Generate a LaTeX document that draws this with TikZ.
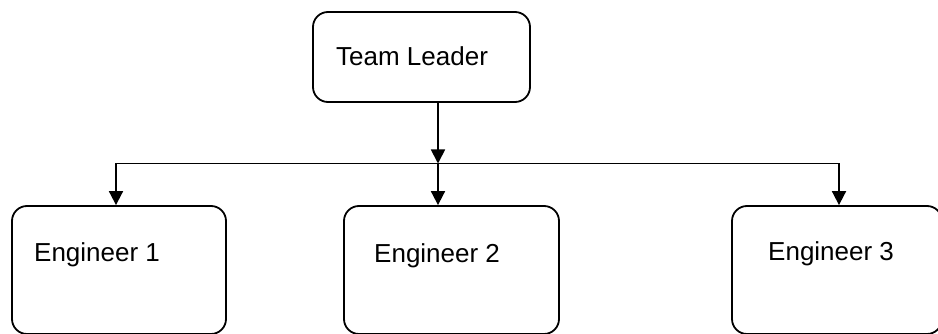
\documentclass[tikz,border=0pt]{standalone}
\usepackage{fontspec}
\setmainfont{Liberation Sans}
\usepackage{tikz}
\usetikzlibrary{arrows.meta}
\tikzstyle{box} = [rectangle, rounded corners=15pt, draw=black, line width=1.8pt, fill=white, inner sep=0pt]
\tikzstyle{boxtext} = [anchor=base west, inner sep=0pt, font=\fontsize{26}{30}\selectfont]
\tikzstyle{arrow} = [line width=1.8pt,-{Triangle[width=14pt,length=14pt]}]
\tikzstyle{bus} = [line width=1.8pt]

\begin{document}
\begin{tikzpicture}[x=1pt,y=-1pt]
\clip (0,0) rectangle (938,334);
\fill[white] (0,0) rectangle (938,334);

\node (lead) [box, minimum width=217pt, minimum height=90pt] at (421.5,57) {};
\node (eng1) [box, minimum width=214pt, minimum height=128pt] at (119,270) {};
\node (eng2) [box, minimum width=215pt, minimum height=128pt] at (451.5,270) {};
\node (eng3) [box, minimum width=210pt, minimum height=128pt] at (837,270) {};

\node (leadtext) [boxtext] at (336,65.5) {Team Leader};
\node (eng1text) [boxtext] at (34,261.5) {Engineer 1};
\node (eng2text) [boxtext] at (374,262) {Engineer 2};
\node (eng3text) [boxtext] at (768,261) {Engineer 3};

\coordinate (mid) at (438,163.5);
\coordinate (left) at (116,163.5);
\coordinate (right) at (839,163.5);

\draw [bus] (left) -- (right);
\draw [arrow] (mid |- lead.south) -- (mid);
\draw [arrow] (mid) -- (mid |- eng2.north);
\draw [arrow] (left) -- (left |- eng1.north);
\draw [arrow] (right) -- (right |- eng3.north);
\end{tikzpicture}
\end{document}
